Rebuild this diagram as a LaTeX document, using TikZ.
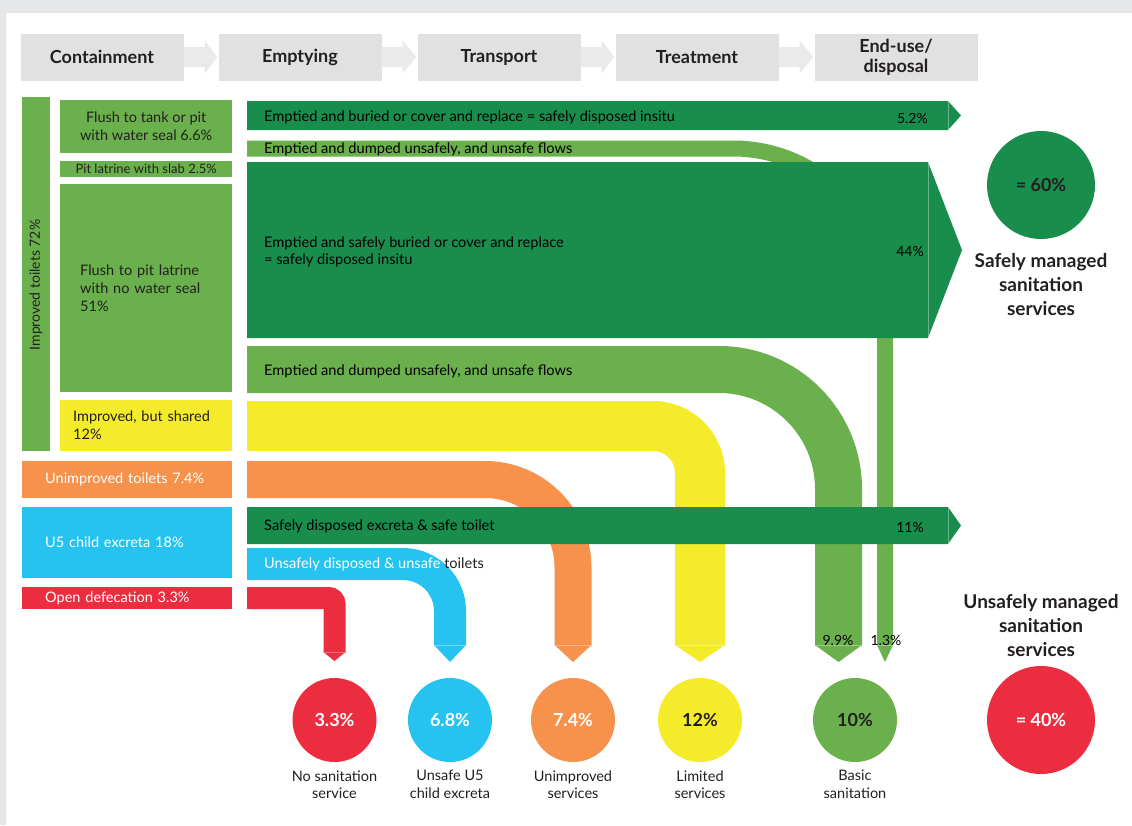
\documentclass[tikz,border=0pt]{standalone}
\usepackage{fontspec}
\setmainfont{Lato}
\usetikzlibrary{positioning}
\definecolor{dgreen}{HTML}{188D4C}
\definecolor{lgreen}{HTML}{6AB04C}
\definecolor{syellow}{HTML}{F4EC2A}
\definecolor{sorange}{HTML}{F6924C}
\definecolor{sblue}{HTML}{26C3F1}
\definecolor{sred}{HTML}{EC2D3F}
\definecolor{hdrgray}{HTML}{E1E1E1}
\definecolor{arrgray}{HTML}{EAEAEA}
\definecolor{framegray}{HTML}{E6E7E9}
\definecolor{ink}{HTML}{231F20}
\begin{document}
\begin{tikzpicture}[x=1pt,y=-1pt,
    stage/.style={fill=hdrgray,minimum width=163pt,minimum height=47pt,inner sep=0pt,
      align=center,text=ink,font=\fontsize{18}{20}\selectfont\bfseries},
    cbox/.style={anchor=north west,inner sep=0pt,text=ink,
      font=\fontsize{14.5}{18}\selectfont},
    flowtext/.style={anchor=west,inner sep=0pt,align=left,text=black,
      font=\fontsize{14.6}{17.5}\selectfont},
    pct/.style={inner sep=0pt,text=black,font=\fontsize{14}{16}\selectfont},
    seam/.style={white,opacity=.35,line width=.8pt},
    sumcircle/.style={circle,minimum size=84pt,inner sep=0pt,
      font=\fontsize{18}{20}\selectfont\bfseries},
    bigcircle/.style={circle,minimum size=108pt,inner sep=0pt,
      font=\fontsize{18}{20}\selectfont\bfseries},
    caption/.style={align=center,inner sep=0pt,text=ink,
      font=\fontsize{14.5}{17.5}\selectfont},
    bigcaption/.style={align=center,inner sep=0pt,text=ink,
      font=\fontsize{19}{24}\selectfont\bfseries}]
  \useasboundingbox (0,0) rectangle (1132,825);
  \fill[framegray] (0,0) rectangle (1132,825);
  \fill[white] (6,13) rectangle (1132,825);

  \node[stage] (cont) at (102,57) {Containment};
  \node[stage] (emp) at (300,57) {Emptying};
  \node[stage] (trans) at (499,57) {Transport};
  \node[stage] (treat) at (697,57) {Treatment};
  \node[stage] (enduse) at (896,57) {End-use/\\disposal};
  \foreach \a/\b in {cont/emp,emp/trans,trans/treat,treat/enduse}
    \fill[arrgray] ([yshift=10pt]\a.east) -- ([yshift=10pt,xshift=21pt]\a.east)
      -- ([yshift=16.5pt,xshift=21pt]\a.east) -- ([xshift=-1pt]\b.west)
      -- ([yshift=-16.5pt,xshift=21pt]\a.east) -- ([yshift=-10pt,xshift=21pt]\a.east)
      -- ([yshift=-10pt]\a.east) -- cycle;

  \node[cbox,fill=lgreen,minimum width=28pt,minimum height=354pt] (improved) at (22,97) {};
  \node[rotate=90,text=ink,font=\fontsize{14}{16}\selectfont] (improvedlbl) at (36,285) {Improved toilets 72\%};
  \node[cbox,fill=lgreen,minimum width=172pt,minimum height=53pt,align=center] (tank) at (60,100)
    {Flush to tank or pit\\with water seal 6.6\%};
  \node[cbox,fill=lgreen,minimum width=172pt,minimum height=16pt,
    font=\fontsize{13}{14}\selectfont] (slab) at (60,161) {Pit latrine with slab 2.5\%};
  \node[cbox,fill=lgreen,minimum height=208pt,text width=132pt,inner xsep=20pt,align=left] (pit) at (60,184)
    {Flush to pit latrine\\with no water seal\\51\%};
  \node[cbox,fill=syellow,minimum height=51pt,text width=146pt,inner xsep=13pt,align=left] (shared) at (60,400)
    {Improved, but shared\\12\%};
  \node[cbox,fill=sorange,minimum height=37pt,text width=164pt,inner xsep=23pt,align=left,text=white] (unimp) at (22,461)
    {Unimproved toilets 7.4\%};
  \node[cbox,fill=sblue,minimum height=71pt,text width=164pt,inner xsep=23pt,align=left,text=white] (child) at (22,507)
    {U5 child excreta 18\%};
  \node[cbox,fill=sred,minimum height=22pt,text width=164pt,inner xsep=23pt,align=left,text=white] (opendef) at (22,587)
    {Open defecation 3.3\%};

  \draw[lgreen,line width=16pt,rounded corners=152pt] (247,148.5) -| (885,646);
  \fill[lgreen] (877,645) -- (893,645) -- (885,662) -- cycle;
  \draw[seam] (877,645) -- (893,645);

  \fill[dgreen] (247,101) -- (948,101) -- (961,115.5) -- (948,130) -- (247,130) -- cycle;
  \draw[seam] (948,101) -- (948,130);
  \fill[dgreen] (247,162) -- (928,162) -- (962,250) -- (928,338) -- (247,338) -- cycle;
  \draw[seam] (928,162) -- (928,338);

  \draw[lgreen,line width=47pt,rounded corners=119.5pt] (247,369.5) -| (838.5,646);
  \fill[lgreen] (815,645) -- (862,645) -- (838.5,662) -- cycle;
  \draw[seam] (815,645) -- (862,645);
  \draw[syellow,line width=50pt,rounded corners=47pt] (247,426) -| (700,646);
  \fill[syellow] (675,645) -- (725,645) -- (700,662) -- cycle;
  \draw[seam] (675,645) -- (725,645);
  \draw[sorange,line width=37pt,rounded corners=88pt] (247,479.5) -| (573,646);
  \fill[sorange] (554.5,645) -- (591.5,645) -- (573,662) -- cycle;
  \draw[seam] (554.5,645) -- (591.5,645);

  \fill[dgreen] (247,507) -- (948,507) -- (961,525.5) -- (948,544) -- (247,544) -- cycle;
  \draw[seam] (948,507) -- (948,544);

  \draw[sblue,line width=32pt,rounded corners=47pt] (247,564) -| (450,646);
  \fill[sblue] (434,645) -- (466,645) -- (450,662) -- cycle;
  \draw[seam] (434,645) -- (466,645);
  \draw[sred,line width=22pt,rounded corners=6pt] (247,598) -| (334.5,653);
  \fill[sred] (323.5,652) -- (345.5,652) -- (334.5,661) -- cycle;
  \draw[seam] (323.5,652) -- (345.5,652);

  \node[flowtext] (buried) at (264,117) {Emptied and buried or cover and replace = safely disposed insitu};
  \node[flowtext] (dumped) at (264,149) {Emptied and dumped unsafely, and unsafe flows};
  \node[flowtext] (safeburied) at (264,252) {Emptied and safely buried or cover and replace\\= safely disposed insitu};
  \node[flowtext] (dumpedpit) at (264,371) {Emptied and dumped unsafely, and unsafe flows};
  \node[flowtext] (safetoilet) at (264,526) {Safely disposed excreta \& safe toilet};
  \node[flowtext] (unsafetoilet) at (264,564)
    {\textcolor{white}{Unsafely disposed \& unsafe} \textcolor{ink}{toilets}};
  \node[pct,anchor=east] (buriedpct) at (928,118) {5.2\%};
  \node[pct,anchor=east] (safeburiedpct) at (924,251) {44\%};
  \node[pct,anchor=east] (safetoiletpct) at (924,527) {11\%};
  \node[pct] (dumpedpitpct) at (838,640) {9.9\%};
  \node[pct] (dumpedpct) at (886,640) {1.3\%};

  \node[sumcircle,fill=sred,text=white] (nosan) at (334.5,720) {3.3\%};
  \node[sumcircle,fill=sblue,text=white] (unsafeu5) at (450,720) {6.8\%};
  \node[sumcircle,fill=sorange,text=white] (unimpserv) at (573,720) {7.4\%};
  \node[sumcircle,fill=syellow,text=ink] (limited) at (700,720) {12\%};
  \node[sumcircle,fill=lgreen,text=ink] (basic) at (855,720) {10\%};
  \node[caption,below=8pt of nosan] (nosanlbl) {No sanitation\\service};
  \node[caption,below=8pt of unsafeu5] (unsafeu5lbl) {Unsafe U5\\child excreta};
  \node[caption,below=8pt of unimpserv] (unimpservlbl) {Unimproved\\services};
  \node[caption,below=8pt of limited] (limitedlbl) {Limited\\services};
  \node[caption,below=8pt of basic] (basiclbl) {Basic\\sanitation};

  \node[bigcircle,fill=dgreen,text=ink] (safe) at (1041,185) {= 60\%};
  \node[bigcaption,below=14pt of safe] (safelbl) {Safely managed\\sanitation\\services};
  \node[bigcircle,fill=sred,text=white] (unsafe) at (1041,720) {= 40\%};
  \node[bigcaption,above=9pt of unsafe] (unsafelbl) {Unsafely managed\\sanitation\\services};
\end{tikzpicture}
\end{document}
